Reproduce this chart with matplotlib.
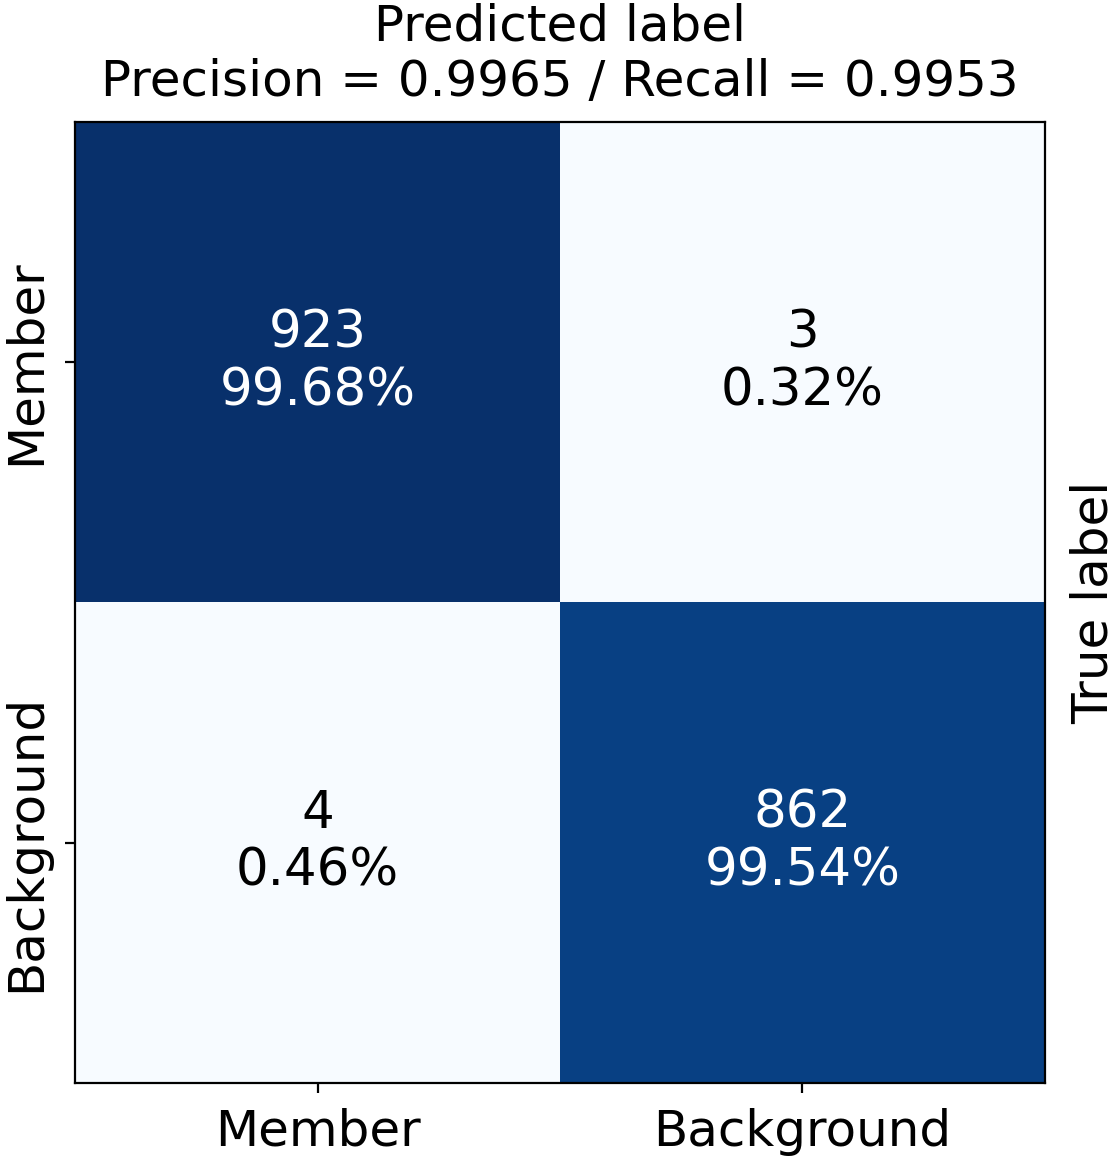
import matplotlib
matplotlib.use("Agg")
import matplotlib.pyplot as plt
import numpy as np

classes = ["Member", "Background"]
counts = np.array([[923, 3],
                   [4, 862]])
precision = 0.9965
recall = 0.9953

row_pct = counts / counts.sum(axis=1, keepdims=True) * 100

fs = 36
fig = plt.figure(figsize=(11.2, 11.59), dpi=100)
ax = fig.add_axes([0.067, 0.0656, 0.866, 0.8291])
ax.imshow(counts, cmap="Blues", aspect="auto", interpolation="nearest")

thresh = counts.max() / 2
for i in range(counts.shape[0]):
    for j in range(counts.shape[1]):
        color = "white" if counts[i, j] > thresh else "black"
        ax.text(j, i, f"{counts[i, j]}\n{row_pct[i, j]:.2f}%",
                ha="center", va="center", color=color, fontsize=37)

ax.set_xticks(range(len(classes)))
ax.set_xticklabels(classes, fontsize=fs)
ax.set_yticks(range(len(classes)))
ax.set_yticklabels(classes, fontsize=fs, rotation=90, va="center")
ax.tick_params(axis="x", length=7, width=1.6, pad=11)
ax.tick_params(axis="y", length=7, width=1.6, pad=11)
for s in ax.spines.values():
    s.set_linewidth(1.6)

ax.set_title(f"Predicted label\nPrecision = {precision:.4f} / Recall = {recall:.4f}",
             fontsize=fs, pad=19)
ax.yaxis.set_label_position("right")
ax.set_ylabel("True label", fontsize=fs, labelpad=18)

fig.savefig("out.png", dpi=100)
